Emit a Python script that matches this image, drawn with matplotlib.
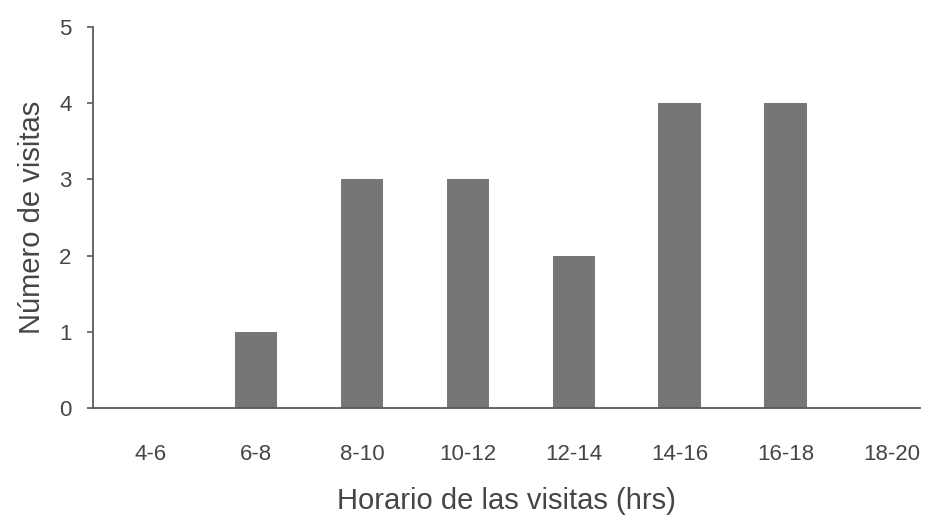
import matplotlib.pyplot as plt
import numpy as np

plt.rcParams['font.family'] = ['Liberation Sans', 'DejaVu Sans']

horarios = ['4-6', '6-8', '8-10', '10-12', '12-14', '14-16', '16-18', '18-20']
visitas = [0, 1, 3, 3, 2, 4, 4, 0]

txt = '#454545'
ax_clr = '#5a5a5a'
bar_clr = '#767676'

fig = plt.figure(figsize=(9.33, 5.18), dpi=100)
ax = fig.add_axes([0.0997, 0.2124, 0.8863, 0.7355])

x = np.arange(len(horarios))
ax.bar(x, visitas, width=0.4, color=bar_clr, edgecolor='none')

ax.set_xlim(-0.54, 7.27)
ax.set_ylim(0, 5)
ax.set_xticks(x)
ax.set_xticklabels(horarios)
ax.set_yticks(range(0, 6))

for s in ['top', 'right']:
    ax.spines[s].set_visible(False)
for s in ['left', 'bottom']:
    ax.spines[s].set_color(ax_clr)
    ax.spines[s].set_linewidth(1.3)

ax.tick_params(axis='x', length=0, pad=26, labelsize=16, labelcolor=txt)
ax.tick_params(axis='y', length=4.5, width=1.2, color=ax_clr, pad=11, labelsize=16, labelcolor=txt)

ax.set_xlabel('Horario de las visitas (hrs)', fontsize=21, color=txt, labelpad=16)
ax.set_ylabel('Número de visitas', fontsize=21, color=txt, labelpad=9)

plt.savefig('out.png', dpi=100)
plt.close()
